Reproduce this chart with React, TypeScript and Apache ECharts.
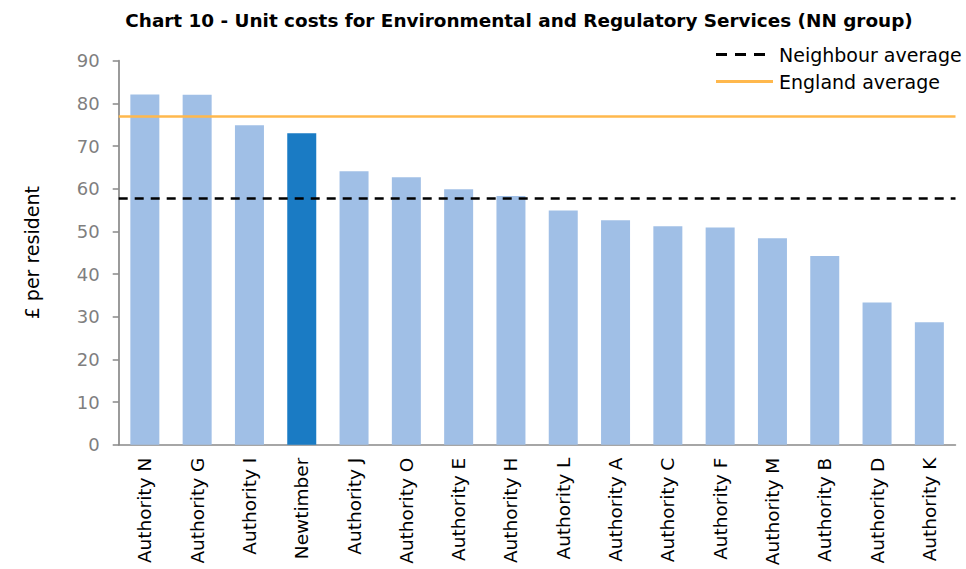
import React, { useEffect, useRef } from "react";
import * as echarts from "echarts";

const categories = [
  "Authority N", "Authority G", "Authority I", "Newtimber", "Authority J", "Authority O",
  "Authority E", "Authority H", "Authority L", "Authority A", "Authority C", "Authority F",
  "Authority M", "Authority B", "Authority D", "Authority K",
];
const unitCosts = [82.1, 82.0, 74.9, 73.0, 64.1, 62.7, 59.9, 58.3, 54.9, 52.6, 51.2, 50.9, 48.4, 44.2, 33.3, 28.7];
const highlighted = "Newtimber";
const neighbourAverage = 57.7;
const englandAverage = 77.0;
const yTicks = { min: 0, max: 90, interval: 10 };

const FONT = "DejaVu Sans";
const DASH_ICON = "path://M0,0h11v3h-11z M19,0h11v3h-11z M38,0h11v3h-11z M56.9,1.4h0.1v0.1h-0.1z";
const SOLID_ICON = "path://M0,0h57v3h-57z";

export default function App() {
  const ref = useRef<HTMLDivElement>(null);
  useEffect(() => {
    if (!ref.current) return;
    const chart = echarts.init(ref.current, null, { renderer: "svg" });
    chart.setOption({
      animation: false,
      backgroundColor: "#ffffff",
      textStyle: { fontFamily: FONT },
      title: {
        text: "Chart 10 - Unit costs for Environmental and Regulatory Services (NN group)",
        left: 514,
        textAlign: "center",
        top: 6,
        textStyle: { fontFamily: FONT, fontSize: 18.4, fontWeight: "bold", color: "#000000" },
      },
      legend: {
        orient: "vertical",
        left: 711,
        top: 40,
        itemGap: 8,
        itemWidth: 57,
        itemHeight: 3,
        textStyle: { fontFamily: FONT, fontSize: 19, color: "#000000", padding: [0, 0, 0, 1] },
        data: [
          { name: "Neighbour average", icon: DASH_ICON },
          { name: "England average", icon: SOLID_ICON },
        ],
      },
      grid: { left: 118.7, right: 10.5, top: 60.7, bottom: 124.3, containLabel: false },
      xAxis: {
        type: "category",
        data: categories,
        axisLine: { show: true, lineStyle: { color: "#898989", width: 1.5 } },
        axisTick: { show: false },
        axisLabel: {
          interval: 0,
          rotate: 90,
          margin: 13,
          color: "#000000",
          fontFamily: FONT,
          fontSize: 18.5,
        },
      },
      yAxis: {
        type: "value",
        min: yTicks.min,
        max: yTicks.max,
        interval: yTicks.interval,
        name: "£ per resident",
        nameLocation: "middle",
        nameRotate: 90,
        nameGap: 77,
        nameTextStyle: { fontFamily: FONT, fontSize: 19, color: "#000000" },
        axisLine: { show: true, lineStyle: { color: "#898989", width: 1.7 } },
        axisTick: { show: true, length: 6, lineStyle: { color: "#898989", width: 1.5 } },
        splitLine: { show: false },
        axisLabel: { color: "#7f7f7f", fontFamily: FONT, fontSize: 18, margin: 19 },
      },
      series: [
        {
          type: "bar",
          name: "Unit cost",
          barWidth: 29,
          data: unitCosts.map((v, i) => ({
            value: v,
            itemStyle: { color: categories[i] === highlighted ? "#1A7BC4" : "#A0BFE6" },
          })),
        },
        {
          type: "line",
          name: "Neighbour average",
          data: [],
          symbol: "none",
          color: "#000000",
          itemStyle: { color: "#000000" },
          lineStyle: { color: "#000000", type: [9, 7], width: 2.5 },
          markLine: {
            silent: true,
            symbol: "none",
            label: { show: false },
            lineStyle: { color: "#000000", type: [9, 7], width: 2.5 },
            data: [{ yAxis: neighbourAverage }],
          },
          z: 5,
        },
        {
          type: "line",
          name: "England average",
          data: [],
          symbol: "none",
          color: "#FFB84D",
          itemStyle: { color: "#FFB84D" },
          lineStyle: { color: "#FFB84D", width: 2.5, type: "solid" },
          markLine: {
            silent: true,
            symbol: "none",
            label: { show: false },
            lineStyle: { color: "#FFB84D", width: 2.5, type: "solid" },
            data: [{ yAxis: englandAverage }],
          },
          z: 5,
        },
      ],
    });
    return () => chart.dispose();
  }, []);
  return <div ref={ref} style={{ width: 966, height: 569, position: "absolute", left: 0, top: 0 }} />;
}
